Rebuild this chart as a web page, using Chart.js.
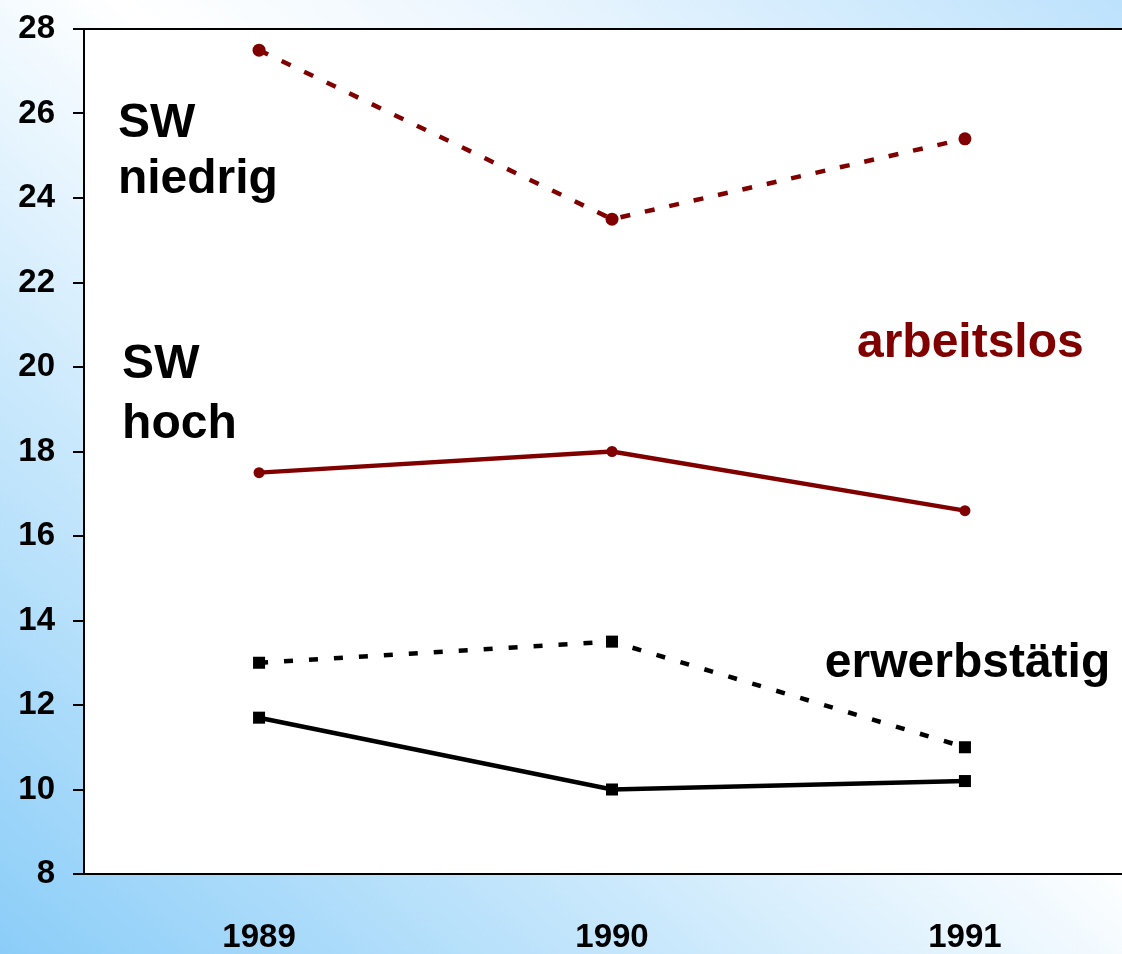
<!DOCTYPE html>
<html lang="de">
<head>
  <meta charset="UTF-8">
  <title>SW niedrig / hoch</title>
  <script src="https://cdn.jsdelivr.net/npm/chart.js"></script>
  <style>
    html, body {
      margin: 0;
      padding: 0;
      overflow: hidden;
    }
    body {
      width: 1122px;
      height: 954px;
      background: linear-gradient(to top right, #8bcdf8 0%, #c9e8fc 30%, #ffffff 55%, #eef7fe 70%, #bde2fc 100%);
    }
    #wrap {
      width: 1122px;
      height: 954px;
    }
  </style>
</head>
<body>
<div id="wrap">
  <canvas id="chart" width="1122" height="954"></canvas>
</div>

<script>
    const years = [1989, 1990, 1991];
    const yTicks = [8, 10, 12, 14, 16, 18, 20, 22, 24, 26, 28];

    // arbeitslos
    const arbeitslosNiedrig = [27.5, 23.5, 25.4];
    const arbeitslosHoch = [17.5, 18.0, 16.6];
    // erwerbstaetig
    const erwerbNiedrig = [13.0, 13.5, 11.0];
    const erwerbHoch = [11.7, 10.0, 10.2];

    // text labels inside the plot, placed in data coordinates (left, baseline)
    const notes = [
        { text: 'SW', x: 1988.60, y: 25.44, color: '#000000' },
        { text: 'niedrig', x: 1988.60, y: 24.12, color: '#000000' },
        { text: 'SW', x: 1988.612, y: 19.74, color: '#000000' },
        { text: 'hoch', x: 1988.612, y: 18.32, color: '#000000' },
        { text: 'arbeitslos', x: 1990.694, y: 20.24, color: '#800000' },
        { text: 'erwerbstätig', x: 1990.603, y: 12.66, color: '#000000' }
    ];

    const RED = '#800000';
    const BLACK = '#000000';
    const FONT = '"Liberation Sans", Arial, sans-serif';

    function points(values) {
        return years.map((yr, i) => ({ x: yr, y: values[i] }));
    }

    //white plot area + top frame line
    const plotFrame = {
        id: 'plotFrame',
        beforeDraw(chart) {
            const { ctx, chartArea: a } = chart;
            ctx.save();
            ctx.fillStyle = '#ffffff';
            ctx.fillRect(a.left, a.top, a.right - a.left, a.bottom - a.top);
            ctx.restore();
        },
        afterDraw(chart) {
            const { ctx, chartArea: a } = chart;
            ctx.save();
            ctx.strokeStyle = '#000';
            ctx.lineWidth = 2;
            ctx.beginPath();
            ctx.moveTo(a.left - 11, a.top);
            ctx.lineTo(a.right, a.top);
            ctx.stroke();
            ctx.restore();
        }
    };

    const noteLabels = {
        id: 'noteLabels',
        afterDatasetsDraw(chart) {
            const { ctx, scales } = chart;
            ctx.save();
            ctx.font = 'bold 48px ' + FONT;
            ctx.textAlign = 'left';
            ctx.textBaseline = 'alphabetic';
            notes.forEach(n => {
                ctx.fillStyle = n.color;
                ctx.fillText(n.text, scales.x.getPixelForValue(n.x), scales.y.getPixelForValue(n.y));
            });
            ctx.restore();
        }
    };

    const ctx = document.getElementById('chart').getContext('2d');
    new Chart(ctx, {
        type: 'line',
        data: {
            datasets: [
                {
                    label: 'arbeitslos SW niedrig',
                    data: points(arbeitslosNiedrig),
                    borderColor: RED,
                    backgroundColor: RED,
                    borderWidth: 4.5,
                    borderDash: [10, 15],
                    pointStyle: 'circle',
                    pointRadius: 6.5,
                    pointBorderWidth: 0
                },
                {
                    label: 'arbeitslos SW hoch',
                    data: points(arbeitslosHoch),
                    borderColor: RED,
                    backgroundColor: RED,
                    borderWidth: 4.5,
                    pointStyle: 'circle',
                    pointRadius: 5.5,
                    pointBorderWidth: 0
                },
                {
                    label: 'erwerbstätig SW niedrig',
                    data: points(erwerbNiedrig),
                    borderColor: BLACK,
                    backgroundColor: BLACK,
                    borderWidth: 4.5,
                    borderDash: [9, 16],
                    pointStyle: 'rect',
                    pointRadius: 8.5,
                    pointBorderWidth: 0
                },
                {
                    label: 'erwerbstätig SW hoch',
                    data: points(erwerbHoch),
                    borderColor: BLACK,
                    backgroundColor: BLACK,
                    borderWidth: 4.5,
                    pointStyle: 'rect',
                    pointRadius: 8.5,
                    pointBorderWidth: 0
                }
            ]
        },
        options: {
            responsive: false,
            animation: false,
            layout: { autoPadding: false, padding: { top: 29, right: 0, left: 0, bottom: 0 } },
            plugins: {
                legend: { display: false },
                tooltip: { enabled: false }
            },
            elements: { line: { tension: 0 } },
            scales: {
                x: {
                    type: 'linear',
                    min: 1988.504,
                    max: 1991.445,
                    afterBuildTicks: scale => {
                        scale.ticks = years.map(v => ({ value: v }));
                    },
                    afterFit: scale => {
                        scale.height = 80;
                        scale.paddingLeft = 0;
                        scale.paddingRight = 0;
                    },
                    grid: { display: false },
                    border: { display: true, color: '#000', width: 2 },
                    ticks: {
                        color: '#000',
                        padding: 36,
                        maxRotation: 0,
                        font: { family: FONT, size: 33, weight: 'bold' },
                        callback: v => String(v)
                    }
                },
                y: {
                    min: 8,
                    max: 28,
                    afterBuildTicks: scale => {
                        scale.ticks = yTicks.map(v => ({ value: v }));
                    },
                    afterFit: scale => {
                        scale.width = 84;
                        scale.paddingTop = 0;
                        scale.paddingBottom = 0;
                    },
                    grid: {
                        drawOnChartArea: false,
                        drawTicks: true,
                        tickLength: 11,
                        color: '#000',
                        lineWidth: 2
                    },
                    border: { display: true, color: '#000', width: 2 },
                    ticks: {
                        color: '#000',
                        padding: 18,
                        font: { family: FONT, size: 33, weight: 'bold' }
                    }
                }
            }
        },
        plugins: [plotFrame, noteLabels]
    });
</script>
</body>
</html>
